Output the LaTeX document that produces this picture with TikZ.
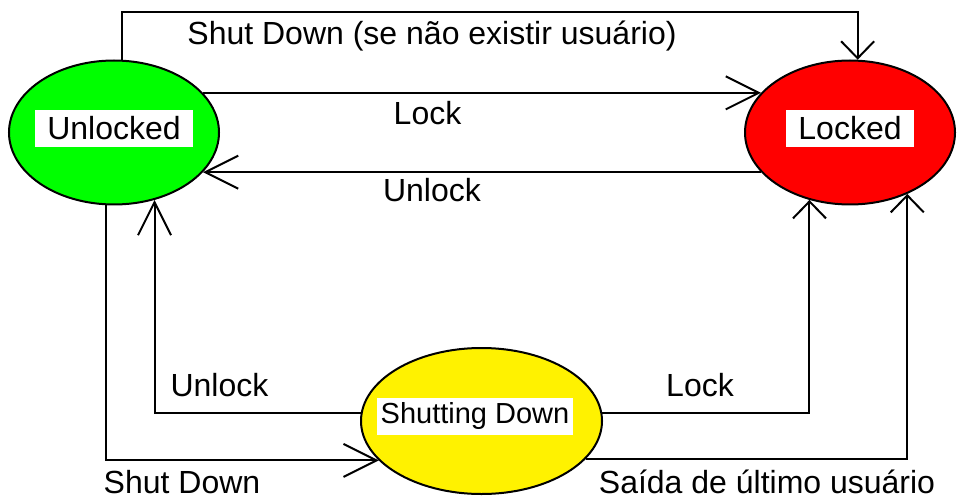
\documentclass[tikz,border=0pt]{standalone}
\usepackage{fontspec}
\setmainfont{Liberation Sans}
\usetikzlibrary{arrows.meta,shapes.geometric}

\begin{document}
\begin{tikzpicture}[
    x=0.5pt, y=-0.5pt,
    state/.style={
        ellipse,
        draw,
        line width=1pt,
        minimum width=105pt,
        minimum height=72pt,
        inner sep=0pt
    },
    tag/.style={
        fill=white,
        inner xsep=6pt,
        inner ysep=0pt,
        minimum height=18.5pt,
        font=\fontsize{16}{19}\selectfont
    },
    lbl/.style={
        anchor=base,
        inner sep=0pt,
        font=\fontsize{16}{19}\selectfont
    },
    link/.style={
        draw,
        line width=1pt,
        -{Straight Barb[length=16.5pt, width=16.5pt]}
    },
    shortlink/.style={
        draw,
        line width=1pt,
        -{Straight Barb[length=8.5pt, width=16.5pt]}
    }
]
    \useasboundingbox (0,0) rectangle (957,497);

    % States
    \node [state, fill=green] (unlocked) at (114,132.5) {};
    \node [state, fill=red] (locked) at (850,132.5) {};
    \node [state, fill=yellow, minimum width=120.5pt, minimum height=73pt] (shutdown) at (481.5,421) {};

    \node [tag] at ([yshift=2pt]unlocked) {Unlocked};
    \node [tag] at ([yshift=2pt]locked) {Locked};
    \node [tag, inner xsep=2pt, font=\fontsize{14.5}{17}\selectfont] at (475,416) {Shutting Down};

    % Edges
    \coordinate (topline) at (0,12);
    \path [shortlink] (unlocked.84) -- (unlocked.84 |- topline) -| (locked.84);
    \path [link] (unlocked.24) -- (locked.156);
    \path [link] (locked.204) -- (unlocked.336);
    \path [link] (unlocked.264) |- (shutdown.201);
    \path [link] (shutdown.176) -| (unlocked.301);
    \path [shortlink] (shutdown.4) -| (locked.239);
    \path [shortlink] (shutdown.340) -| (locked.313);

    % Labels
    \node [lbl] (l_shut_top) at (432,45) {Shut Down (se não existir usuário)};
    \node [lbl] (l_lock_top) at (427.5,125) {Lock};
    \node [lbl] (l_unlock_top) at (432,202) {Unlock};
    \node [lbl] (l_unlock_sd) at (219.5,396) {Unlock};
    \node [lbl] (l_lock_sd) at (700,396) {Lock};
    \node [lbl] (l_shut_sd) at (182,493) {Shut Down};
    \node [lbl] (l_exit) at (767,493) {Saída de último usuário};

\end{tikzpicture}
\end{document}
